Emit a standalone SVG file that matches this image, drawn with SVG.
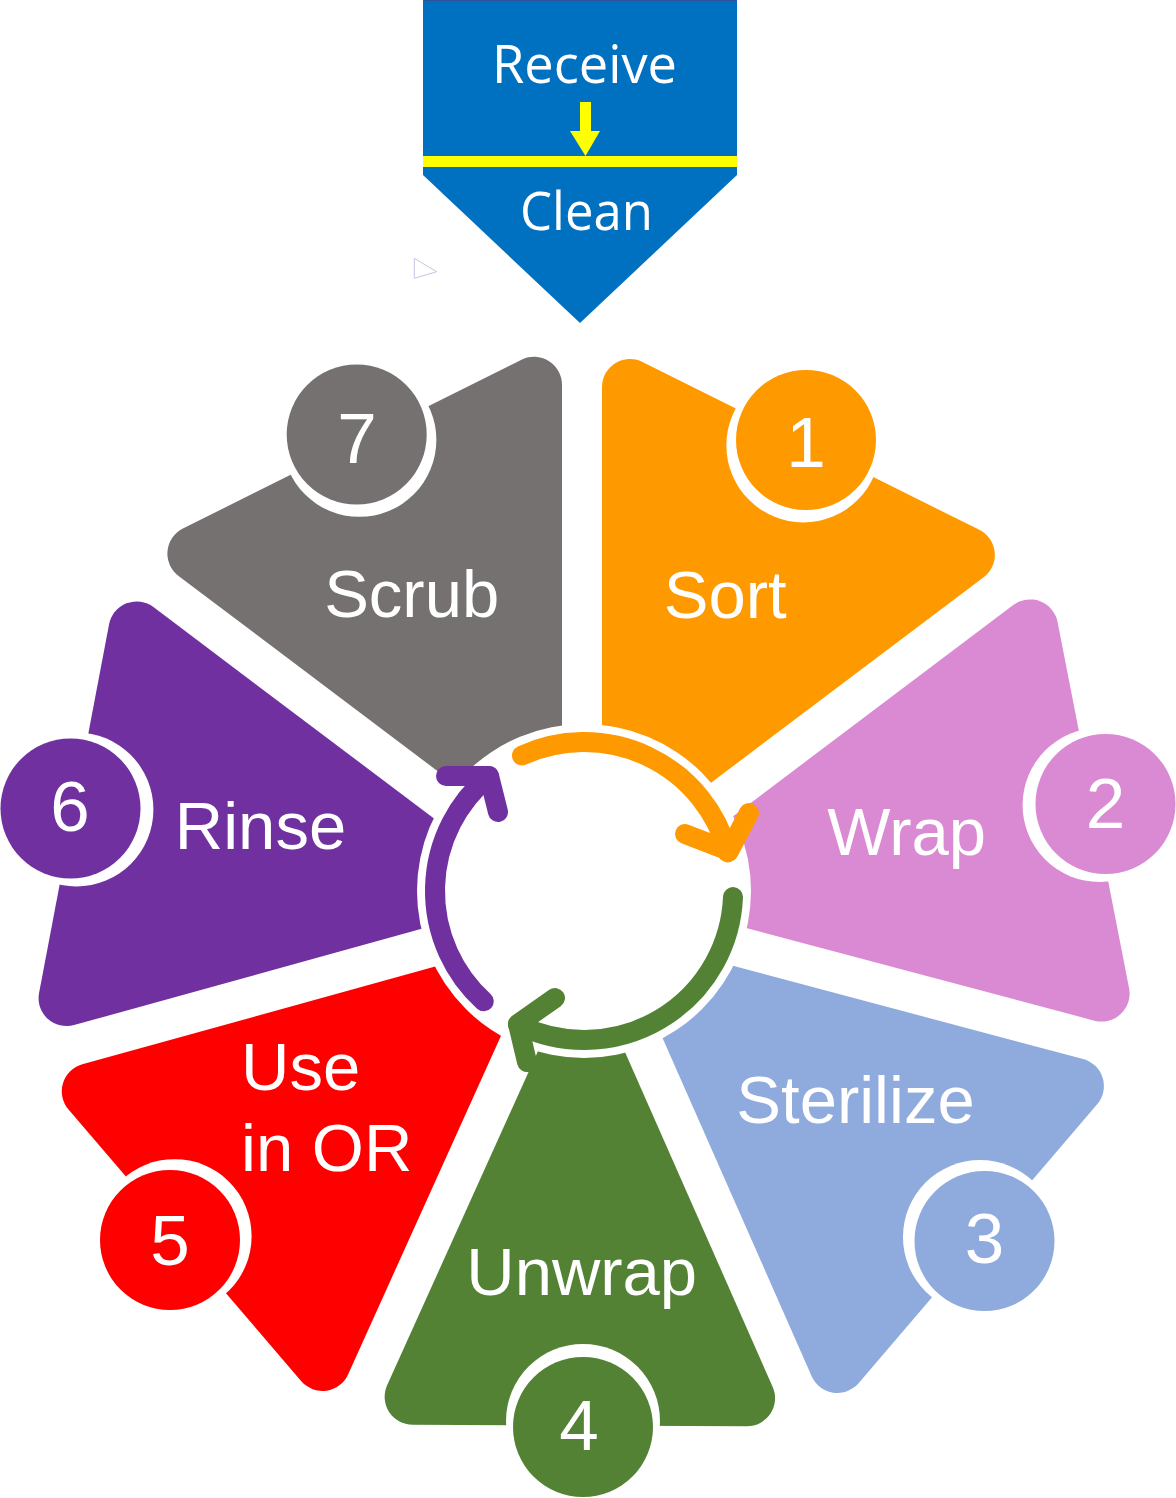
<svg xmlns="http://www.w3.org/2000/svg" width="1176" height="1498" viewBox="0 0 1176 1498">
  <style>
    .lbl { font-family: "Liberation Sans", Arial, sans-serif; font-size: 67px; fill: #ffffff; }
    .num { font-family: "Liberation Sans", Arial, sans-serif; font-size: 71px; fill: #ffffff; text-anchor: middle; }
    .mid { text-anchor: middle; }
    .top { font-family: "Open Sans", "Liberation Sans", sans-serif; font-size: 53px; fill: #ffffff; text-anchor: middle; }
    .halo { fill: #ffffff; }
    .arr { fill: none; stroke-width: 20; stroke-linecap: round; stroke-linejoin: round; }
  </style>
  <rect width="1176" height="1498" fill="#ffffff"/>

  <g id="receive-clean">
    <polygon points="423,0 737,0 737,175 580,323 423,175" fill="#0070C0"/>
    <line x1="423" y1="0.5" x2="737" y2="0.5" stroke="#2F5597" stroke-width="1"/>
    <rect x="423" y="156" width="314" height="11" fill="#FFFF00"/>
    <polygon points="580,102 591,102 591,131 600,131 585.5,156 570,131 580,131" fill="#FFFF00"/>
    <text class="top" x="584.5" y="83" textLength="185" lengthAdjust="spacingAndGlyphs">Receive</text>
    <text class="top" x="586.5" y="230" textLength="133" lengthAdjust="spacingAndGlyphs">Clean</text>
  </g>
  <polygon points="414.3,258.3 414.3,278.3 436.7,271.7" fill="none" stroke="#C9C3E3" stroke-width="1"/>

  <g id="sort">
    <path transform="translate(582 905) rotate(26.5)" fill="#FF9900" d="M0,-44.8 L213.25,-472.5 A28,28 0 0 0 188.19,-513 L-188.19,-513 A28,28 0 0 0 -213.25,-472.5 Z"/>
  </g>
  <g id="wrap">
    <path transform="translate(582 905) rotate(78.95)" fill="#DA8AD2" d="M0,-45.7 L211.72,-480.74 A28,28 0 0 0 186.54,-521 L-186.54,-521 A28,28 0 0 0 -211.72,-480.74 Z"/>
  </g>
  <g id="sterilize">
    <path transform="translate(582 905) rotate(130.55)" fill="#8FAADC" d="M0,-46.2 L208.74,-480.88 A28,28 0 0 0 183.5,-521 L-183.5,-521 A28,28 0 0 0 -208.74,-480.88 Z"/>
  </g>
  <g id="unwrap">
    <path transform="translate(582 905) rotate(180.25)" fill="#548235" d="M0,-49.1 L192.79,-481.1 A28,28 0 0 0 167.22,-520.5 L-167.22,-520.5 A28,28 0 0 0 -192.79,-481.1 Z"/>
  </g>
  <g id="use-in-or">
    <path transform="translate(582 905) rotate(229.4)" fill="#FF0000" d="M0,-47.1 L204.21,-483.11 A28,28 0 0 0 178.85,-523 L-178.85,-523 A28,28 0 0 0 -204.21,-483.11 Z"/>
  </g>
  <g id="rinse">
    <path transform="translate(582 905) rotate(280.75)" fill="#7030A0" d="M0,-45.2 L212.74,-476.62 A28,28 0 0 0 187.63,-517 L-187.63,-517 A28,28 0 0 0 -212.74,-476.62 Z"/>
  </g>
  <g id="scrub">
    <path transform="translate(582 905) rotate(333.5)" fill="#767171" d="M0,-44.8 L214.24,-474.5 A28,28 0 0 0 189.18,-515 L-189.18,-515 A28,28 0 0 0 -214.24,-474.5 Z"/>
  </g>

  <circle id="hub" cx="584" cy="891" r="167" fill="#ffffff"/>

  <g id="badge-1">
    <circle class="halo" cx="803.35" cy="445.38" r="77"/>
    <circle cx="806" cy="440" r="70" fill="#FF9900"/>
    <text class="num" x="806" y="466.7">1</text>
  </g>
  <g id="badge-2">
    <circle class="halo" cx="1099.58" cy="804.99" r="77"/>
    <circle cx="1105.5" cy="804" r="70" fill="#DA8AD2"/>
    <text class="num" x="1105.5" y="828.3">2</text>
  </g>
  <g id="badge-3">
    <circle class="halo" cx="979.98" cy="1237.05" r="77"/>
    <circle cx="984.5" cy="1241" r="70" fill="#8FAADC"/>
    <text class="num" x="984.5" y="1263.3">3</text>
  </g>
  <g id="badge-4">
    <circle class="halo" cx="583" cy="1421" r="77"/>
    <circle cx="583" cy="1427" r="70" fill="#548235"/>
    <text class="num" x="579" y="1450">4</text>
  </g>
  <g id="badge-5">
    <circle class="halo" cx="174.59" cy="1236.13" r="77"/>
    <circle cx="170" cy="1240" r="70" fill="#FF0000"/>
    <text class="num" x="170" y="1265">5</text>
  </g>
  <g id="badge-6">
    <circle class="halo" cx="76.42" cy="809.45" r="77"/>
    <circle cx="70.5" cy="808.5" r="70" fill="#7030A0"/>
    <text class="num" x="70" y="830.7">6</text>
  </g>
  <g id="badge-7">
    <circle class="halo" cx="359.37" cy="439.87" r="77"/>
    <circle cx="356.7" cy="434.5" r="70" fill="#767171"/>
    <text class="num" x="357" y="462.7">7</text>
  </g>

  <g id="labels">
    <text class="lbl mid" x="725.3" y="618.3">Sort</text>
    <text class="lbl mid" x="906.7" y="855">Wrap</text>
    <text class="lbl mid" x="855.5" y="1123.3">Sterilize</text>
    <text class="lbl mid" x="581.7" y="1295">Unwrap</text>
    <text class="lbl" x="241" y="1090">Use</text>
    <text class="lbl" x="241" y="1170.7">in OR</text>
    <text class="lbl mid" x="260.5" y="849.3">Rinse</text>
    <text class="lbl mid" x="411.7" y="616.7">Scrub</text>
  </g>

  <g id="connectors">
    <path class="arr" stroke="#FF9900" d="M522,755.5 A149,149 0 0 1 727.9,852.4"/>
    <polyline class="arr" stroke="#FF9900" points="685,834 729,851 749,813"/>
    <path class="arr" stroke="#548235" d="M733,897 A149,149 0 0 1 518,1024.5"/>
    <polyline class="arr" stroke="#548235" points="555,998 518,1024 527,1062"/>
    <path class="arr" stroke="#7030A0" d="M483.8,1001.3 A149,149 0 0 1 489,776.2"/>
    <polyline class="arr" stroke="#7030A0" points="446,776 489,776 498,812"/>
  </g>
</svg>
